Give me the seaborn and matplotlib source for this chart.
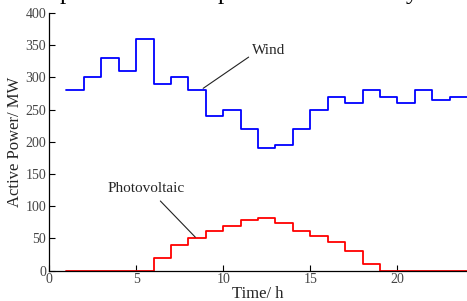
import numpy as np
import pandas as pd
import matplotlib
matplotlib.use('Agg')
import matplotlib.pyplot as plt
import seaborn as sns

# hourly values (stairs, post)
hours = list(range(1, 25))
wind = [280, 300, 330, 310, 360, 290, 300, 280, 240, 250, 220, 190,
        195, 220, 250, 270, 260, 280, 270, 260, 280, 265, 270, 270]
pv = [0, 0, 0, 0, 0, 20, 40, 50, 62, 70, 78, 82,
      74, 62, 54, 45, 31, 10, 0, 0, 0, 0, 0, 0]

x_ticks = [0, 5, 10, 15, 20]
y_ticks = [0, 50, 100, 150, 200, 250, 300, 350, 400]

df = pd.DataFrame({'Time': hours, 'Wind': wind, 'Photovoltaic': pv})

sns.set_theme(style='ticks')
plt.rcParams['font.family'] = ['Liberation Serif', 'DejaVu Serif']

fig = plt.figure(figsize=(4.67, 3.01), dpi=100)
ax = fig.add_axes([0.105, 0.1007, 0.895, 0.8563])

sns.lineplot(data=df, x='Time', y='Wind', ax=ax, color='#0000ff',
             drawstyle='steps-post', linewidth=1.3)
sns.lineplot(data=df, x='Time', y='Photovoltaic', ax=ax, color='#ff0000',
             drawstyle='steps-post', linewidth=1.3)

ax.set_xlim(0, 24)
ax.set_ylim(0, 400)
ax.set_xticks(x_ticks)
ax.set_yticks(y_ticks)
ax.tick_params(direction='in', length=4, width=0.8, labelsize=10,
               labelcolor='#444444', color='black', pad=2)
sns.despine(ax=ax)
for s in ['left', 'bottom']:
    ax.spines[s].set_linewidth(0.9)
    ax.spines[s].set_color('black')

ax.set_xlabel('Time/ h', fontsize=12, labelpad=0)
ax.set_ylabel('Active Power/ MW', fontsize=12, labelpad=2)

ax.annotate('Wind', xy=(8.85, 283), xytext=(11.65, 341), fontsize=11,
            ha='left', va='center',
            arrowprops=dict(arrowstyle='-', color='#222222', lw=0.8,
                            shrinkA=0, shrinkB=0, relpos=(0, 0.2)))
ax.annotate('Photovoltaic', xy=(8.4, 52), xytext=(5.6, 128), fontsize=11,
            ha='center', va='center',
            arrowprops=dict(arrowstyle='-', color='#222222', lw=0.8,
                            shrinkA=3, shrinkB=0, relpos=(0.6, 0)))

# descenders of the cropped caption line above the figure
for fx, ch in [(0.128, 'p'), (0.466, 'p'), (0.868, 'y')]:
    fig.text(fx, 1.004, ch, fontsize=18, ha='left', va='baseline', color='black')

fig.savefig('out.png', dpi=100)
